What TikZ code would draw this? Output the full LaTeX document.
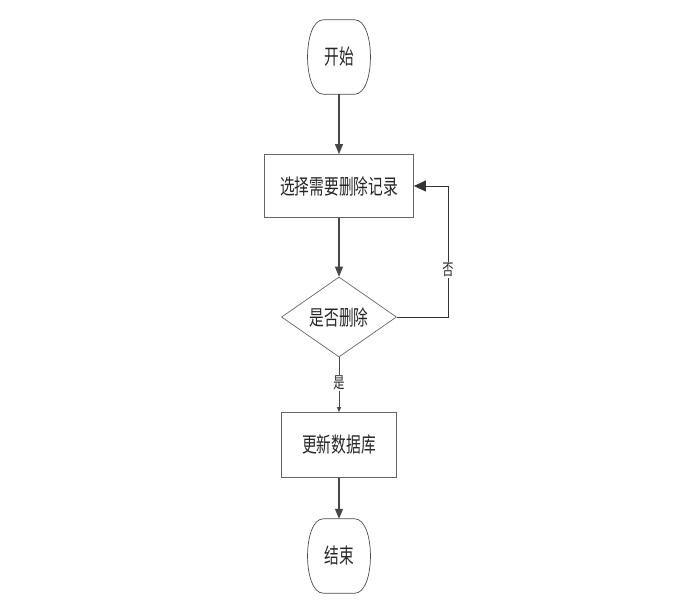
\documentclass[tikz,border=0pt]{standalone}
\usepackage{fontspec}
\newfontfamily\cjk[FakeStretch=0.7]{Noto Sans CJK SC}
\usetikzlibrary{shapes.geometric,arrows.meta}
\newcommand{\termshape}[1]{%
  \draw[termline] ([xshift=16pt]#1.north west) -- ([xshift=-16pt]#1.north east)
    .. controls ([xshift=5pt]#1.north east) and ([xshift=5pt]#1.south east) .. ([xshift=-16pt]#1.south east)
    -- ([xshift=16pt]#1.south west)
    .. controls ([xshift=-5pt]#1.south west) and ([xshift=-5pt]#1.north west) .. cycle;}
\begin{document}
\begin{tikzpicture}[x=1pt,y=-1pt,
  txt/.style={font=\cjk\fontsize{21}{21}\selectfont, text=black!85},
  termline/.style={draw=black!70, line width=0.7pt},
  term/.style={txt, rectangle, minimum width=63pt, minimum height=74pt, inner sep=0pt},
  proc/.style={txt, rectangle, draw=black!60, line width=0.8pt, inner sep=0pt},
  dec/.style={txt, diamond, draw=black!60, line width=0.7pt, aspect=1.44, minimum width=115pt, minimum height=80pt, inner sep=0pt},
  conn/.style={draw=black!72, line width=1.1pt},
  arr/.style={conn, -{Triangle[length=10pt,width=8pt]}},
  lab/.style={font=\cjk\fontsize{16}{16}\selectfont, text=black!85, fill=white, inner sep=1pt}
]
\useasboundingbox (0,0) rectangle (677,608);
\node[term] (start) at (339,57) {开始};
\termshape{start}
\node[proc, minimum width=149pt, minimum height=63pt] (sel) at (339,186) {选择需要删除记录};
\node[dec] (dec) at (339,317) {是否删除};
\node[proc, minimum width=115pt, minimum height=65pt] (upd) at (339,445) {更新数据库};
\node[term] (end) at (339,556) {结束};
\termshape{end}
\coordinate (turn) at (448,317);
\draw[arr] (start) -- (sel);
\draw[arr] (sel) -- (dec);
\draw[conn, draw=black!80, line width=0.8pt, -{Triangle[length=12pt,width=11pt]}] (dec.east) -- (turn) |- node[lab, pos=0.18] {否} (sel.east);
\draw[conn, line width=0.9pt, -{Triangle[length=5pt,width=4pt]}] (dec.south) -- node[lab, pos=0.47] {是} (upd.north);
\draw[arr] (upd) -- (end);
\end{tikzpicture}
\end{document}
